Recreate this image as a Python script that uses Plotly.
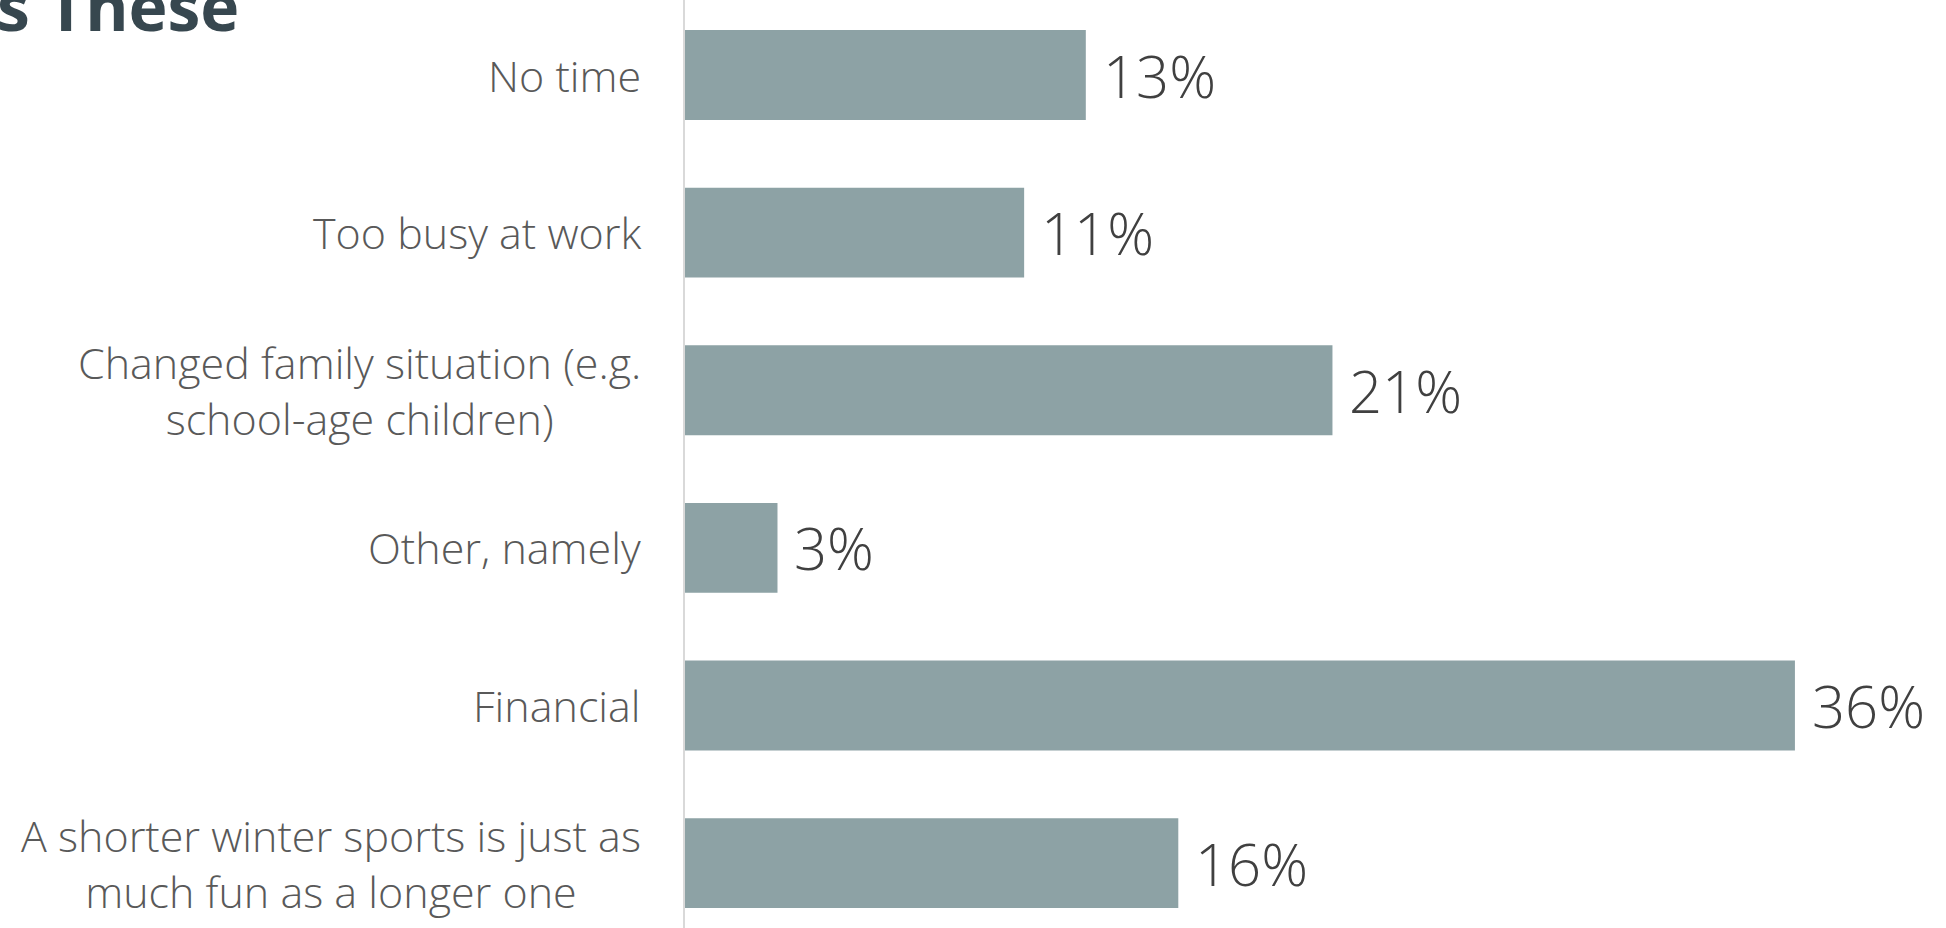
import plotly.graph_objects as go

# Reasons, listed top to bottom
reasons = [
    "No time",
    "Too busy at work",
    "Changed family situation (e.g.<br>school-age children)",
    "Other, namely",
    "Financial",
    "A shorter winter sports is just as<br>much fun as a longer one",
]
shares = [13, 11, 21, 3, 36, 16]
share_labels = ["13%", "11%", "21%", "3%", "36%", "16%"]

positions = list(range(len(reasons)))

BAR = "#8da2a5"
LABEL = "#595959"
VALUE = "#404040"
FONT = "Open Sans"

fig = go.Figure(
    go.Bar(
        x=shares,
        y=positions,
        orientation="h",
        marker=dict(color=BAR, line=dict(width=0)),
        width=0.57,
        cliponaxis=False,
        hoverinfo="skip",
    )
)

# Value labels just past the end of each bar
for pos, val, lab in zip(positions, shares, share_labels):
    fig.add_annotation(
        x=val, xref="x", xanchor="left", xshift=15,
        y=pos, yref="y", yanchor="middle",
        text=lab, showarrow=False,
        font=dict(family=FONT, size=58, color=VALUE, weight=300),
    )

# Category labels, centred line by line and right-aligned to the axis
for pos, name in zip(positions, reasons):
    fig.add_annotation(
        x=0, xref="paper", xanchor="right", xshift=-42,
        y=pos, yref="y", yanchor="middle",
        text=name, showarrow=False, align="center",
        font=dict(family=FONT, size=43, color=LABEL, weight=300),
    )

# Heading, running off the top edge
fig.add_annotation(
    x=0, xref="paper", xanchor="left", xshift=-690,
    y=1, yref="paper", yanchor="top", yshift=42,
    text="<b>s These</b>", showarrow=False,
    font=dict(family="Open Sans", size=66, color="#37474f"),
)

fig.update_layout(
    width=1946,
    height=928,
    margin=dict(l=685, r=0, t=0, b=0),
    paper_bgcolor="white",
    plot_bgcolor="white",
    showlegend=False,
    bargap=0.43,
)
fig.update_xaxes(range=[0, 40.9], visible=False, fixedrange=True)
fig.update_yaxes(
    range=[5.412, -0.476],
    showticklabels=False,
    showgrid=False,
    zeroline=False,
    showline=True,
    linecolor="#d9d9d9",
    linewidth=2,
    ticks="",
    fixedrange=True,
)

fig.write_html("out.html", config={"displayModeBar": False})
